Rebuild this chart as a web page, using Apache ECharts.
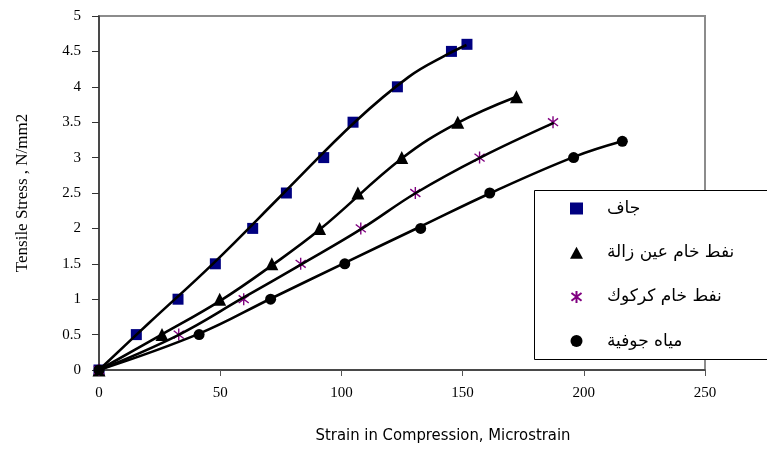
<!DOCTYPE html>
<html>
<head>
<meta charset="utf-8">
<script src="https://cdn.jsdelivr.net/npm/echarts@6/dist/echarts.min.js"></script>
<style>html,body{margin:0;padding:0;background:#fff;}#chart{width:767px;height:457px;}</style>
</head>
<body>
<div id="chart"></div>
<script>
// Series names (legend)
var seriesNames = ['جاف', 'نفط خام عين زالة', 'نفط خام كركوك', 'مياه جوفية'];
// جاف (dry) – measured points
var dryX = [0, 15.4, 32.6, 48, 63.4, 77.3, 92.7, 104.8, 123.1, 145.4, 151.8];
var dryY = [0, 0.5, 1, 1.5, 2, 2.5, 3, 3.5, 4, 4.5, 4.6];
// نفط خام عين زالة – measured points
var zalaX = [0, 26, 49.8, 71.3, 91, 106.8, 124.9, 148, 172.2];
var zalaY = [0, 0.5, 1, 1.5, 2, 2.5, 3, 3.5, 3.86];
// نفط خام كركوك – measured points
var kirkukX = [0, 32.9, 59.7, 83.2, 108, 130.5, 157, 187.3];
var kirkukY = [0, 0.5, 1, 1.5, 2, 2.5, 3, 3.5];
// مياه جوفية – measured points
var waterX = [0, 41.3, 70.8, 101.4, 132.7, 161.2, 195.8, 215.9];
var waterY = [0, 0.5, 1, 1.5, 2, 2.5, 3, 3.23];

// Trend lines
var dryTrendX = [0, 20.5, 47.3, 76.2, 105.8, 127.8, 143.3, 151.6];
var dryTrendY = [0, 0.66, 1.51, 2.5, 3.51, 4.14, 4.45, 4.59];
var zalaTrendX = [0, 25.3, 50.1, 71.4, 91.3, 125, 147.4, 172.2];
var zalaTrendY = [0, 0.49, 0.98, 1.48, 1.99, 2.99, 3.48, 3.86];
var kirkukTrendX = [0, 32.5, 59, 83.3, 108.1, 130.7, 157.3, 187.6];
var kirkukTrendY = [0, 0.49, 1.01, 1.49, 1.99, 2.5, 3.0, 3.49];
var waterTrendX = [0, 41.1, 71, 101.2, 132.3, 161.6, 196, 215.8];
var waterTrendY = [0, 0.51, 1.01, 1.51, 2.02, 2.5, 3.01, 3.23];

// Axis ticks
var xTicks = [0, 50, 100, 150, 200, 250];
var yTicks = [0, 0.5, 1, 1.5, 2, 2.5, 3, 3.5, 4, 4.5, 5];

function pairs(xs, ys) { return xs.map(function (x, i) { return [x, ys[i]]; }); }

var asterisk = 'path://M5,0 L5,10 M0.8,1.8 L9.2,8.2 M9.2,1.8 L0.8,8.2';
var markers = [
  { symbol: 'rect', size: 11, color: '#000080' },
  { symbol: 'triangle', size: 13, color: '#000000' },
  { symbol: asterisk, size: 12, color: '#800080' },
  { symbol: 'circle', size: 11, color: '#000000' }
];
var pointData = [pairs(dryX, dryY), pairs(zalaX, zalaY), pairs(kirkukX, kirkukY), pairs(waterX, waterY)];
var trendData = [pairs(dryTrendX, dryTrendY), pairs(zalaTrendX, zalaTrendY), pairs(kirkukTrendX, kirkukTrendY), pairs(waterTrendX, waterTrendY)];

var series = [];
pointData.forEach(function (d, i) {
  var m = markers[i];
  var isAst = (i === 2);
  series.push({
    name: seriesNames[i],
    type: 'scatter',
    data: d,
    symbol: m.symbol,
    symbolSize: m.size,
    symbolKeepAspect: true,
    z: 2,
    itemStyle: isAst ? { color: 'rgba(0,0,0,0)', borderColor: m.color, borderWidth: 1.4, opacity: 1 } : { color: m.color, opacity: 1 },
    emphasis: { disabled: true }
  });
});
trendData.forEach(function (d, i) {
  series.push({
    type: 'line',
    data: d,
    smooth: 0.4,
    showSymbol: false,
    silent: true,
    z: 3,
    lineStyle: { color: '#000', width: 2.6 }
  });
});

var chart = echarts.init(document.getElementById('chart'), null, { renderer: 'canvas' });
chart.setOption({
  animation: false,
  backgroundColor: '#fff',
  grid: { left: 99, top: 16, right: 62, bottom: 87, show: true, borderColor: '#8c8c8c', borderWidth: 2, backgroundColor: 'transparent' },
  xAxis: {
    type: 'value', min: 0, max: 250, interval: 50,
    name: 'Strain in Compression, Microstrain',
    nameLocation: 'middle', nameGap: 57,
    nameTextStyle: { fontFamily: 'Liberation Sans Narrow, DejaVu Sans Condensed, sans-serif', fontSize: 16.5, color: '#000', padding: [0, 0, 0, 82] },
    axisLine: { lineStyle: { color: '#333', width: 1.5 } },
    axisTick: { show: true, length: 6, lineStyle: { color: '#555', width: 1 } },
    axisLabel: { fontFamily: 'Liberation Serif, serif', fontSize: 15, color: '#000', margin: 16 },
    splitLine: { show: false }
  },
  yAxis: {
    type: 'value', min: 0, max: 5, interval: 0.5,
    name: 'Tensile Stress , N/mm2',
    nameLocation: 'middle', nameGap: 68,
    nameTextStyle: { fontFamily: 'Liberation Serif, serif', fontSize: 17, color: '#000' },
    axisLine: { lineStyle: { color: '#333', width: 1.5 } },
    axisTick: { show: true, length: 7, lineStyle: { color: '#333', width: 1 } },
    axisLabel: { fontFamily: 'Liberation Serif, serif', fontSize: 15, color: '#000', margin: 18 },
    splitLine: { show: false }
  },
  graphic: [{
    type: 'rect', z: 1, zlevel: 0,
    shape: { x: 534.5, y: 190.5, width: 300, height: 169 },
    style: { fill: '#fff', stroke: '#000', lineWidth: 1 }
  }],
  legend: {
    orient: 'vertical', left: 565, top: 195, z: 10,
    itemWidth: 13, itemHeight: 12, itemGap: 27.2,
    data: seriesNames.map(function (n) { return { name: n }; }),
    textStyle: { fontFamily: 'DejaVu Sans, sans-serif', fontSize: 17, color: '#000', padding: [0, 0, 0, 19] }
  },
  series: series
});
</script>
</body>
</html>
